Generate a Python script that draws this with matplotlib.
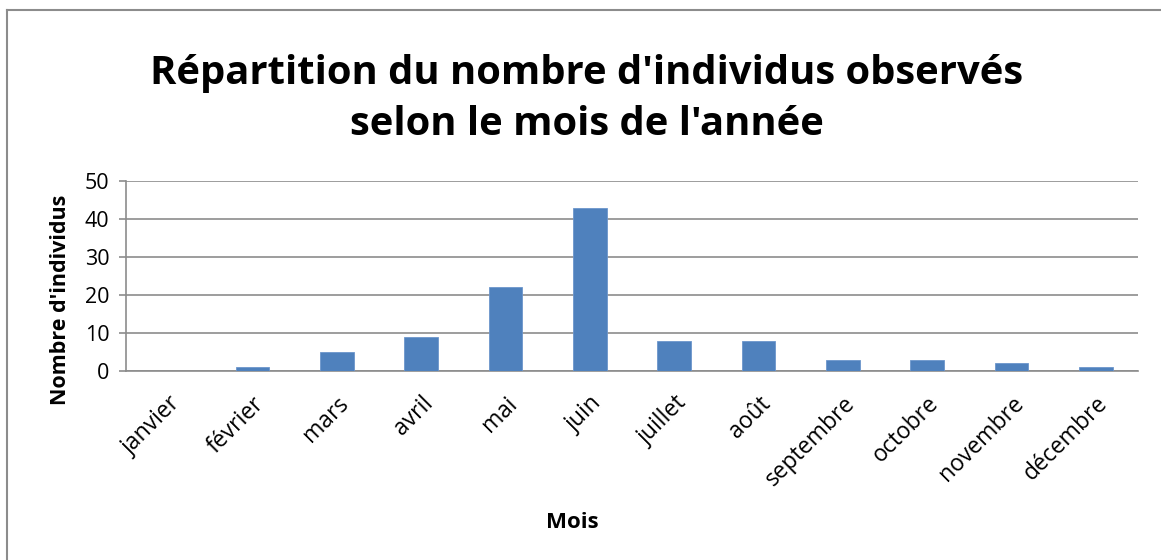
import matplotlib
matplotlib.use("Agg")
import matplotlib.pyplot as plt
from matplotlib.lines import Line2D

# Data
mois = ["janvier", "février", "mars", "avril", "mai", "juin", "juillet",
        "août", "septembre", "octobre", "novembre", "décembre"]
individus = [0, 1, 5, 9, 22, 43, 8, 8, 3, 3, 2, 1]
y_ticks = [0, 10, 20, 30, 40, 50]

plt.rcParams["font.family"] = ["Open Sans", "DejaVu Sans"]

W, H = 1161, 560
fig = plt.figure(figsize=(W / 100, H / 100), dpi=100)

# outer chart border (only top and left visible in the crop)
fig.add_artist(Line2D([7 / W, 7 / W], [0, 1 - 10 / H], color="#8c8c8c", lw=1.5))
fig.add_artist(Line2D([7 / W, 1], [1 - 10 / H, 1 - 10 / H], color="#8c8c8c", lw=1.5))

ax = fig.add_axes([126 / W, 1 - 371 / H, (1138 - 126) / W, (371 - 181) / H])

x = range(len(mois))
ax.bar(x, individus, width=0.4, color="#4f81bd", edgecolor="#6c96cc", linewidth=0.6, zorder=3)

ax.set_ylim(0, 50)
ax.set_xlim(-0.5, len(mois) - 0.5)
ax.set_yticks(y_ticks)
ax.set_yticklabels([str(v) for v in y_ticks], fontsize=15.5)
ax.yaxis.grid(True, color="#8c8c8c", linewidth=1.2, zorder=0)
ax.set_xticks(list(x))
ax.set_xticklabels(mois, rotation=45, ha="right", va="top", fontsize=16.5,
                   rotation_mode="anchor")
ax.tick_params(axis="x", length=0, pad=15)
ax.tick_params(axis="y", length=5, color="#8c8c8c", width=1.2, pad=7)

for side in ["top", "right"]:
    ax.spines[side].set_visible(False)
ax.spines["left"].set_color("#8c8c8c")
ax.spines["left"].set_linewidth(1.2)
ax.spines["bottom"].set_color("#8c8c8c")
ax.spines["bottom"].set_linewidth(1.2)

ax.set_ylabel("Nombre d'individus", fontsize=15.5, fontweight="bold",
              va="center", ha="center")
ax.yaxis.set_label_coords((60 - 126) / 1012, (371 - 300) / 190)
fig.text(572 / W, 1 - 523 / H, "Mois", fontsize=16, fontweight="bold",
         ha="center", va="center")

fig.text(587 / W, 1 - 99 / H,
         "Répartition du nombre d'individus observés\nselon le mois de l'année",
         fontsize=28.8, fontweight="bold", ha="center", va="center", linespacing=1.4)

fig.savefig("out.png", dpi=100)
